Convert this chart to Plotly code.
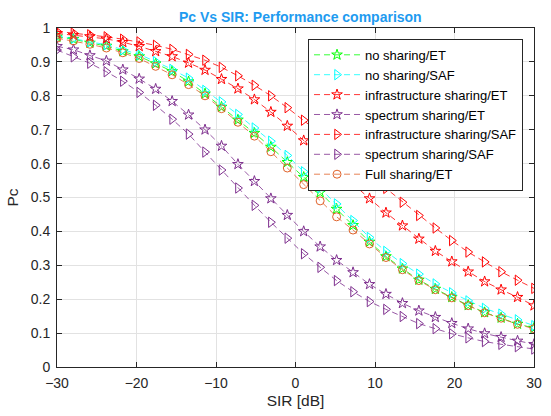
import plotly.graph_objects as go

# SIR axis points (30 points from -30 to 30 dB)
sir = [-30.0, -27.93, -25.86, -23.79, -21.72, -19.66, -17.59, -15.52, -13.45, -11.38,
       -9.31, -7.24, -5.17, -3.10, -1.03, 1.03, 3.10, 5.17, 7.24, 9.31,
       11.38, 13.45, 15.52, 17.59, 19.66, 21.72, 23.79, 25.86, 27.93, 30.0]

no_sharing_et = [0.974, 0.967, 0.956, 0.947, 0.931, 0.916, 0.895, 0.872, 0.842, 0.806,
                 0.767, 0.729, 0.690, 0.649, 0.604, 0.560, 0.515, 0.466, 0.418, 0.369,
                 0.326, 0.290, 0.257, 0.230, 0.206, 0.182, 0.161, 0.145, 0.127, 0.115]
no_sharing_saf = [0.976, 0.969, 0.959, 0.951, 0.936, 0.922, 0.901, 0.878, 0.852, 0.816,
                  0.782, 0.745, 0.705, 0.666, 0.624, 0.576, 0.529, 0.481, 0.432, 0.382,
                  0.341, 0.305, 0.274, 0.245, 0.219, 0.195, 0.173, 0.156, 0.139, 0.122]
infra_et = [0.984, 0.979, 0.975, 0.968, 0.958, 0.946, 0.931, 0.916, 0.897, 0.876,
            0.849, 0.821, 0.789, 0.752, 0.711, 0.668, 0.626, 0.582, 0.540, 0.497,
            0.455, 0.417, 0.378, 0.342, 0.311, 0.281, 0.252, 0.228, 0.206, 0.181]
spectrum_et = [0.946, 0.936, 0.919, 0.903, 0.877, 0.850, 0.820, 0.784, 0.744, 0.700,
               0.652, 0.598, 0.548, 0.497, 0.448, 0.400, 0.355, 0.315, 0.279, 0.244,
               0.215, 0.188, 0.166, 0.147, 0.129, 0.113, 0.099, 0.088, 0.077, 0.067]
infra_saf = [0.990, 0.985, 0.980, 0.974, 0.967, 0.959, 0.949, 0.937, 0.922, 0.905,
             0.884, 0.859, 0.831, 0.800, 0.765, 0.728, 0.689, 0.649, 0.609, 0.566,
             0.527, 0.486, 0.447, 0.410, 0.373, 0.339, 0.310, 0.281, 0.256, 0.232]
spectrum_saf = [0.935, 0.915, 0.896, 0.871, 0.843, 0.810, 0.772, 0.731, 0.687, 0.634,
                0.581, 0.528, 0.477, 0.427, 0.380, 0.334, 0.294, 0.255, 0.222, 0.193,
                0.170, 0.149, 0.128, 0.113, 0.098, 0.086, 0.075, 0.067, 0.060, 0.053]
full_et = [0.970, 0.962, 0.952, 0.941, 0.927, 0.910, 0.887, 0.862, 0.833, 0.800,
           0.762, 0.722, 0.681, 0.635, 0.587, 0.538, 0.490, 0.443, 0.404, 0.363,
           0.323, 0.287, 0.255, 0.228, 0.204, 0.181, 0.160, 0.144, 0.126, 0.113]

series = [
    ("no sharing/ET", no_sharing_et, "#00FF00", "star-open", 8),
    ("no sharing/SAF", no_sharing_saf, "#00FFFF", "triangle-right-open", 9),
    ("infrastructure sharing/ET", infra_et, "#FF0000", "star-open", 8),
    ("spectrum sharing/ET", spectrum_et, "#7E2F8E", "star-open", 8),
    ("infrastructure sharing/SAF", infra_saf, "#FF0000", "triangle-right-open", 9),
    ("spectrum sharing/SAF", spectrum_saf, "#7E2F8E", "triangle-right-open", 9),
    ("Full sharing/ET", full_et, "#E0622A", "circle-open", 8),
]

fig = go.Figure()
for name, vals, color, sym, msize in series:
    fig.add_trace(go.Scatter(
        x=sir, y=vals, name=name, mode="lines+markers",
        line=dict(color=color, width=0.8, dash="6px,4px"),
        marker=dict(symbol=sym, size=msize, color=color, line=dict(color=color, width=1)),
    ))

axis_color = "#262626"
font_family = "Arial, Liberation Sans, sans-serif"

fig.update_layout(
    width=551, height=416,
    margin=dict(l=57, r=9, t=28, b=42),
    paper_bgcolor="white", plot_bgcolor="white",
    font=dict(family=font_family, color=axis_color, size=14),
    title=dict(text="<b>Pc Vs SIR: Performance comparison</b>",
               x=0.545, xanchor="center", y=0.958, yanchor="middle",
               font=dict(size=14, color="#1E9BF0", family=font_family)),
    showlegend=True,
    legend=dict(x=0.977, xanchor="right", y=0.968, yanchor="top",
                bgcolor="white", bordercolor=axis_color, borderwidth=1,
                font=dict(size=13, color="black", family=font_family),
                itemwidth=46, tracegroupgap=0),
)
fig.update_xaxes(
    range=[-30, 30], tick0=-30, dtick=10, showgrid=True, gridcolor="#e2e2e2",
    showline=True, linecolor=axis_color, linewidth=1, mirror="ticks",
    ticks="inside", ticklen=5, tickcolor=axis_color, zeroline=False,
    ticklabelstandoff=3,
    title=dict(text="SIR [dB]", font=dict(size=15.5), standoff=5),
)
fig.update_yaxes(
    range=[0, 1], tick0=0, dtick=0.1, showgrid=True, gridcolor="#e2e2e2",
    showline=True, linecolor=axis_color, linewidth=1, mirror="ticks",
    ticks="inside", ticklen=5, tickcolor=axis_color, zeroline=False,
    ticklabelstandoff=3,
    title=dict(text="Pc", font=dict(size=15.5), standoff=8),
)

fig.write_html("out.html")
